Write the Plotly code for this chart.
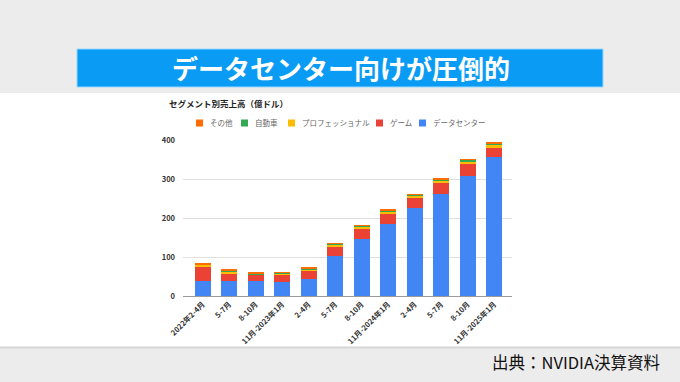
import plotly.graph_objects as go

W, H = 680, 382

categories = ["2022年2-4月", "5-7月", "8-10月", "11月-2023年1月", "2-4月", "5-7月",
              "8-10月", "11月-2024年1月", "2-4月", "5-7月", "8-10月", "11月-2025年1月"]
datacenter = [37.5, 38.1, 38.3, 36.2, 42.8, 103.2, 145.1, 184.0, 225.6, 262.7, 307.7, 355.8]
gaming = [36.2, 20.4, 15.7, 18.3, 22.4, 24.9, 28.6, 28.7, 26.5, 28.8, 32.8, 25.4]
professional = [6.2, 5.0, 2.0, 2.3, 3.0, 3.8, 4.2, 4.6, 4.3, 4.5, 4.9, 5.1]
automotive = [1.4, 2.2, 2.5, 2.9, 3.0, 2.5, 2.6, 2.8, 3.3, 3.5, 4.5, 5.7]
other = [1.6, 1.4, 0.7, 0.8, 0.8, 0.7, 0.7, 0.9, 0.8, 0.9, 1.0, 1.3]
y_ticks = [0, 100, 200, 300, 400]

series = [
    ("データセンター", datacenter, "#4285F4"),
    ("ゲーム", gaming, "#EA4335"),
    ("プロフェッショナル", professional, "#FBBC04"),
    ("自動車", automotive, "#34A853"),
    ("その他", other, "#FF6D01"),
]
legend_names = ["その他", "自動車", "プロフェッショナル", "ゲーム", "データセンター"]

FONT = "Noto Sans CJK JP"

def px(x):
    return x / W

def py(y):
    return 1 - y / H

positions = list(range(len(categories)))

fig = go.Figure()
for name, vals, col in series:
    fig.add_trace(go.Bar(x=positions, y=vals, name=name, showlegend=False,
                         marker=dict(color=col, line=dict(width=0))))

plot_l, plot_r, plot_t, plot_b = 183, 512, 140, 296

shapes = [
    dict(type="rect", xref="paper", yref="paper", x0=0, x1=1, y0=py(347), y1=py(93),
         fillcolor="white", line=dict(width=0), layer="below"),
    dict(type="line", xref="paper", yref="paper", x0=0, x1=1, y0=py(347.5), y1=py(347.5),
         line=dict(color="#d6d6d6", width=2), layer="below"),
    dict(type="rect", xref="paper", yref="paper", x0=px(77), x1=px(603), y0=py(87), y1=py(49),
         fillcolor="#0A9BF5", line=dict(color="#9ad8ff", width=1), layer="below"),
]

annotations = [
    dict(text="<b>データセンター向けが圧倒的</b>", xref="paper", yref="paper", x=px(341), y=py(68),
         showarrow=False, font=dict(family=FONT, size=26, color="white"), xanchor="center", yanchor="middle"),
    dict(text="<b>セグメント別売上高（億ドル）</b>", xref="paper", yref="paper", x=px(167), y=py(103),
         showarrow=False, font=dict(family=FONT, size=8.5, color="#222222"), xanchor="left", yanchor="middle"),
    dict(text="出典：NVIDIA決算資料", xref="paper", yref="paper", x=px(662), y=py(362),
         showarrow=False, font=dict(family=FONT, size=16.5, color="#111111"), xanchor="right", yanchor="middle"),
]

color_of = {n: c for n, _, c in series}
legend_sq_x = [196, 241, 288, 376, 419]
for name, sx in zip(legend_names, legend_sq_x):
    shapes.append(dict(type="rect", xref="paper", yref="paper", x0=px(sx), x1=px(sx + 7),
                       y0=py(126.5), y1=py(119.5), fillcolor=color_of[name], line=dict(width=0)))
    annotations.append(dict(text=name, xref="paper", yref="paper", x=px(sx + 12), y=py(123),
                            showarrow=False, xanchor="left", yanchor="middle",
                            font=dict(family=FONT, size=7.5, color="#666666")))

fig.update_layout(
    width=W, height=H,
    margin=dict(l=0, r=0, t=0, b=0, autoexpand=False),
    paper_bgcolor="#ececec",
    plot_bgcolor="rgba(0,0,0,0)",
    barmode="stack",
    bargap=0.38,
    font=dict(family=FONT),
    shapes=shapes,
    annotations=annotations,
    showlegend=False,
    xaxis=dict(domain=[px(plot_l), px(plot_r)], range=[-0.745, 11.67],
               tickmode="array", tickvals=positions,
               ticktext=[f"<b>{c}</b>" for c in categories],
               tickangle=-45, tickfont=dict(family=FONT, size=7.5, color="#333333"),
               showgrid=False, showline=True, linecolor="#9a9a9a", linewidth=1,
               ticks="", automargin=False),
    yaxis=dict(domain=[py(plot_b), py(plot_t)], range=[0, 400], tickmode="array",
               tickvals=y_ticks, ticktext=[f"<b>{v}</b>" for v in y_ticks],
               tickfont=dict(family=FONT, size=7.5, color="#333333"),
               showgrid=True, gridcolor="#e0e0e0", gridwidth=1, zeroline=False,
               ticks="", ticklabelstandoff=7, automargin=False),
)

fig.write_html("out.html", config={"displayModeBar": False},
               post_script="document.body.style.margin='0';document.body.style.overflow='hidden';")
